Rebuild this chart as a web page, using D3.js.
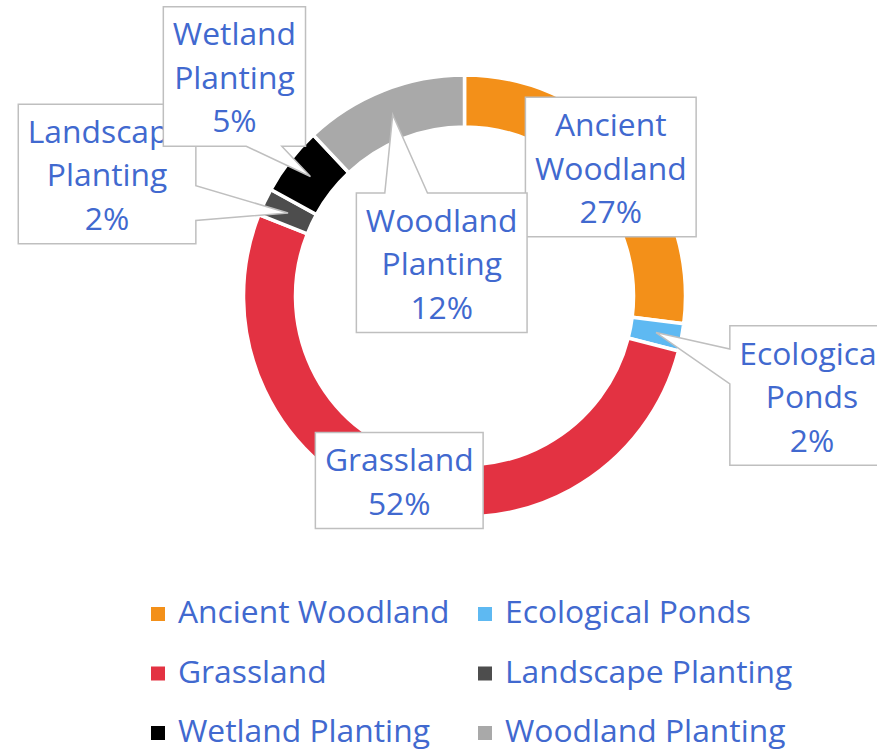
<!DOCTYPE html>
<html>
<head>
<meta charset="utf-8">
<script src="https://cdn.jsdelivr.net/npm/d3@7"></script>
<style>
  body { margin: 0; background: #fff; }
  svg { display: block; font-family: "Open Sans", sans-serif; }
</style>
</head>
<body>
<svg id="chart" width="879" height="749"></svg>
<script>
const categories = ["Ancient Woodland", "Ecological Ponds", "Grassland", "Landscape Planting", "Wetland Planting", "Woodland Planting"];
const values = [27, 2, 52, 2, 5, 12];
const colors = ["#F39019", "#5EB9F2", "#E33242", "#4D4D4D", "#000000", "#A9A9A9"];
// where each data label box sits, relative to its slice centre
const labelOffsets = [[0, 0], [156, 63], [-5, -1], [-181, -39], [-76, -100], [49, 148]];

const textColor = "#4169CF";
const fontSize = 31.8;
const lineH = 43.5;

const svg = d3.select("#chart");
const cx = 464.5, cy = 296;
const outerR = 221, innerR = 169;

svg.append("defs").append("clipPath").attr("id", "plot")
  .append("rect").attr("x", 0).attr("y", 0).attr("width", 877).attr("height", 560);

const total = d3.sum(values);
const pie = d3.pie().sort(null).value(d => d);
const arcs = pie(values);

const arc = d3.arc().innerRadius(innerR).outerRadius(outerR);
const midArc = d3.arc().innerRadius((innerR + outerR) / 2).outerRadius((innerR + outerR) / 2);

const root = svg.append("g").attr("clip-path", "url(#plot)");
const g = root.append("g").attr("transform", `translate(${cx},${cy})`);

g.selectAll("path.slice")
  .data(arcs)
  .join("path")
  .attr("class", "slice")
  .attr("d", arc)
  .attr("fill", (d, i) => colors[i])
  .attr("stroke", "#fff")
  .attr("stroke-width", 3.5);

// callout box with a wedge pointing at the slice (base spans 1/6..5/12 of the side)
function calloutPath(x0, y0, x1, y1, ax, ay) {
  const w = x1 - x0, h = y1 - y0;
  const ox = ax < x0 ? x0 - ax : ax > x1 ? ax - x1 : 0;
  const oy = ay < y0 ? y0 - ay : ay > y1 ? ay - y1 : 0;
  let side = null;
  if (ox > 0 || oy > 0) {
    if (oy >= ox) side = ay < y0 ? "top" : "bottom";
    else side = ax < x0 ? "left" : "right";
  }
  const baseX = ax < (x0 + x1) / 2 ? [x0 + w / 6, x0 + 5 * w / 12] : [x1 - 5 * w / 12, x1 - w / 6];
  const baseY = ay < (y0 + y1) / 2 ? [y0 + h / 6, y0 + 5 * h / 12] : [y1 - 5 * h / 12, y1 - h / 6];
  const p = d3.path();
  p.moveTo(x0, y0);
  if (side === "top") { p.lineTo(baseX[0], y0); p.lineTo(ax, ay); p.lineTo(baseX[1], y0); }
  p.lineTo(x1, y0);
  if (side === "right") { p.lineTo(x1, baseY[0]); p.lineTo(ax, ay); p.lineTo(x1, baseY[1]); }
  p.lineTo(x1, y1);
  if (side === "bottom") { p.lineTo(baseX[1], y1); p.lineTo(ax, ay); p.lineTo(baseX[0], y1); }
  p.lineTo(x0, y1);
  if (side === "left") { p.lineTo(x0, baseY[1]); p.lineTo(ax, ay); p.lineTo(x0, baseY[0]); }
  p.closePath();
  return p.toString();
}

arcs.forEach((d, i) => {
  const [ax, ay] = midArc.centroid(d);
  const bx = ax + labelOffsets[i][0];
  const by = ay + labelOffsets[i][1];
  const pct = Math.round(d.value / total * 100) + "%";
  const lines = categories[i].split(" ").concat([pct]);

  const lg = g.append("g");
  const box = lg.append("path");
  const txt = lg.append("text")
    .attr("text-anchor", "middle")
    .attr("fill", textColor)
    .style("font-size", fontSize + "px");
  lines.forEach((l, k) => {
    txt.append("tspan")
      .attr("x", bx)
      .attr("y", by + (k - (lines.length - 1) / 2) * lineH + 12.5)
      .text(l);
  });
  let w = 0;
  txt.selectAll("tspan").each(function() { w = Math.max(w, this.getComputedTextLength()); });
  const bw = w + 19, bh = lines.length * lineH + 9;
  box.attr("d", calloutPath(bx - bw / 2, by - bh / 2, bx + bw / 2, by + bh / 2, ax, ay))
    .attr("fill", "#fff")
    .attr("stroke", "#BFBFBF")
    .attr("stroke-width", 1.5);
});

// legend
const legendCols = [151, 478];
const legendRows = [623, 682.5, 742];
const legend = svg.append("g");
categories.forEach((c, i) => {
  const x = legendCols[i % 2], y = legendRows[Math.floor(i / 2)];
  legend.append("rect")
    .attr("x", x).attr("y", y - 16)
    .attr("width", 14).attr("height", 14)
    .attr("fill", colors[i]);
  legend.append("text")
    .attr("x", x + 27).attr("y", y)
    .attr("fill", textColor)
    .style("font-size", fontSize + "px")
    .text(c);
});
</script>
</body>
</html>
